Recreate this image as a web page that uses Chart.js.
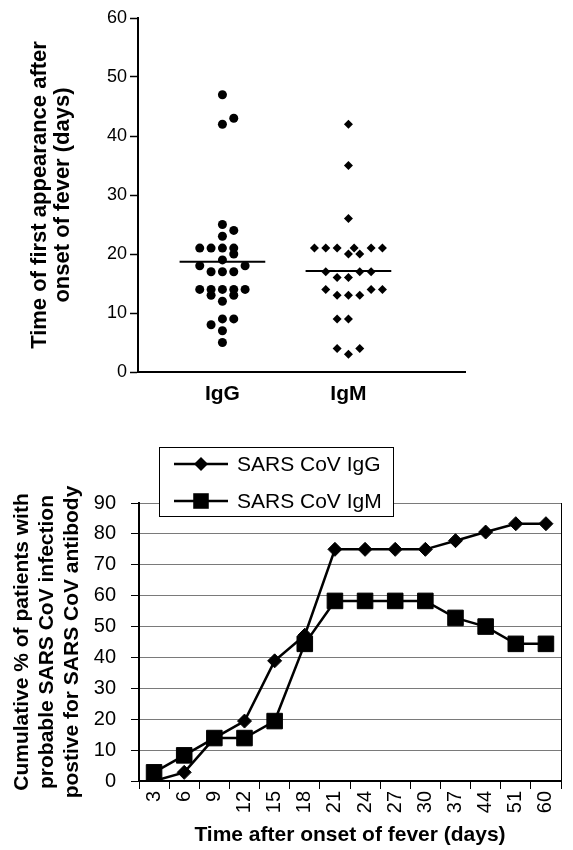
<!DOCTYPE html>
<html>
<head>
<meta charset="utf-8">
<script src="https://cdn.jsdelivr.net/npm/chart.js@4.4.1/dist/chart.umd.min.js"></script>
<style>
  html, body { margin: 0; padding: 0; background: #fff; }
  #top { position: absolute; left: 0; top: 0; }
  #bottom { position: absolute; left: 0; top: 430px; }
</style>
</head>
<body>
<canvas id="top" width="573" height="425"></canvas>
<canvas id="bottom" width="573" height="420"></canvas>
<script>
// top panel: day of first appearance, one dot per patient
const groups = ["IgG", "IgM"];
const iggDays = [47, 42, 43, 25, 24, 23, 21, 21, 21, 21, 20, 19, 18, 18, 17, 17, 17, 14, 14, 14, 14, 14, 13, 13, 12, 9, 9, 8, 7, 5];
const iggSlot = [0, 0, 1, 0, 1, 0, -2, -1, 0, 1, 1, 0, -2, 2, -1, 0, 1, -2, -1, 0, 1, 2, -1, 1, 0, 0, 1, -1, 0, 0];
const igmDays = [42, 35, 26, 21, 21, 21, 21, 21, 21, 20, 20, 17, 17, 17, 16, 16, 14, 14, 14, 13, 13, 13, 9, 9, 4, 4, 3];
const igmSlot = [0, 0, 0, -3, -2, -1, 0.5, 2, 3, 0, 1, -2, 1, 2, -1, 0, -2, 2, 3, -1, 0, 1, -1, 0, -1, 1, 0];
const groupMeans = [18.7, 17.1];

// bottom panel: cumulative % positive by day after fever onset
const days = ["3", "6", "9", "12", "15", "18", "21", "24", "27", "30", "37", "44", "51", "60"];
const iggPct = [0, 2.8, 13.9, 19.4, 38.9, 47.2, 75, 75, 75, 75, 77.8, 80.6, 83.3, 83.3];
const igmPct = [2.8, 8.3, 13.9, 13.9, 19.4, 44.4, 58.3, 58.3, 58.3, 58.3, 52.8, 50, 44.4, 44.4];

Chart.defaults.font.family = "'Liberation Sans', Arial, sans-serif";
Chart.defaults.color = "#000";

const slotStep = 0.09;
const dots = (vals, slots, g) => vals.map((v, i) => ({ x: g + 1 + slots[i] * slotStep, y: v }));
const meanBar = (g) => [{ x: g + 1 - 0.34, y: groupMeans[g] }, { x: g + 1 + 0.34, y: groupMeans[g] }];

new Chart(document.getElementById("top"), {
    type: "scatter",
    data: {
        datasets: [
            { data: dots(iggDays, iggSlot, 0), pointStyle: "circle", pointRadius: 4.5, backgroundColor: "#000", borderColor: "#000", borderWidth: 0 },
            { data: dots(igmDays, igmSlot, 1), pointStyle: "rectRot", pointRadius: 4.5, backgroundColor: "#000", borderColor: "#000", borderWidth: 0 },
            { data: meanBar(0), showLine: true, pointRadius: 0, borderColor: "#000", borderWidth: 2 },
            { data: meanBar(1), showLine: true, pointRadius: 0, borderColor: "#000", borderWidth: 2 },
        ],
    },
    options: {
        responsive: false,
        animation: false,
        layout: { padding: { top: 18, right: 108, left: 0, bottom: 0 } },
        plugins: { legend: { display: false }, tooltip: { enabled: false } },
        scales: {
            x: {
                type: "linear",
                min: 0.33,
                max: 2.925,
                afterBuildTicks: (s) => { s.ticks = groups.map((g, i) => ({ value: i + 1 })); },
                ticks: { callback: (v) => groups[v - 1], font: { size: 21, weight: "bold" }, padding: 10, maxRotation: 0 },
                grid: { display: false, drawTicks: false },
                border: { color: "#000", width: 2 },
                afterFit: (s) => { s.height = 53; },
            },
            y: {
                min: 0,
                max: 60,
                ticks: { stepSize: 10, font: { size: 18 }, padding: 3 },
                grid: { drawOnChartArea: false, color: "#000", tickLength: 8, tickWidth: 1.5 },
                border: { color: "#000", width: 2 },
                title: {
                    display: true,
                    text: ["Time of first appearance after", "onset of fever (days)"],
                    font: { size: 22, weight: "bold", lineHeight: 23 / 22 },
                    padding: { top: 28, bottom: 0 },
                },
                afterFit: (s) => { s.width = 138; },
            },
        },
    },
});

// legend in a box that sits over the top edge of the plot
const boxedLegend = {
    id: "boxedLegend",
    afterDraw(chart) {
        const ctx = chart.ctx;
        const x0 = 159, y0 = 17, w = 234, h = 69;
        ctx.save();
        ctx.fillStyle = "#fff";
        ctx.fillRect(x0, y0, w, h);
        ctx.strokeStyle = "#000";
        ctx.lineWidth = 1;
        ctx.strokeRect(x0 + 0.5, y0 + 0.5, w, h);
        chart.data.datasets.forEach((ds, i) => {
            const y = y0 + 17 + i * 37;
            const cx = x0 + 42;
            ctx.strokeStyle = "#000";
            ctx.lineWidth = 2.5;
            ctx.beginPath();
            ctx.moveTo(x0 + 15, y);
            ctx.lineTo(x0 + 69, y);
            ctx.stroke();
            ctx.fillStyle = "#000";
            ctx.beginPath();
            if (ds.pointStyle === "rect") {
                const s = ds.pointRadius * Math.SQRT1_2;
                ctx.rect(cx - s, y - s, 2 * s, 2 * s);
            } else {
                const r = ds.pointRadius;
                ctx.moveTo(cx, y - r);
                ctx.lineTo(cx + r, y);
                ctx.lineTo(cx, y + r);
                ctx.lineTo(cx - r, y);
                ctx.closePath();
            }
            ctx.fill();
            ctx.font = "21px 'Liberation Sans', Arial, sans-serif";
            ctx.textBaseline = "middle";
            ctx.fillText(ds.label, x0 + 78, y + 1);
        });
        ctx.restore();
    },
};

new Chart(document.getElementById("bottom"), {
    type: "line",
    data: {
        labels: days,
        datasets: [
            { label: "SARS CoV IgG", data: iggPct, borderColor: "#000", backgroundColor: "#000", borderWidth: 2.5, pointStyle: "rectRot", pointRadius: 7, pointBorderWidth: 1, tension: 0 },
            { label: "SARS CoV IgM", data: igmPct, borderColor: "#000", backgroundColor: "#000", borderWidth: 2.5, pointStyle: "rect", pointRadius: 11, pointBorderWidth: 1, tension: 0 },
        ],
    },
    options: {
        responsive: false,
        animation: false,
        layout: { padding: { top: 73, right: 1, left: 0, bottom: 0 } },
        plugins: { legend: { display: false }, tooltip: { enabled: false } },
        scales: {
            x: {
                offset: true,
                ticks: { minRotation: 90, maxRotation: 90, font: { size: 20 }, padding: 2, autoSkip: false },
                grid: { offset: true, drawOnChartArea: false, color: "#000", tickLength: 8 },
                border: { color: "#000", width: 2 },
                title: {
                    display: true,
                    text: "Time after onset of fever (days)",
                    font: { size: 21, weight: "bold" },
                    padding: { top: 0, bottom: 2 },
                },
                afterFit: (s) => { s.height = 69; },
            },
            y: {
                min: 0,
                max: 90,
                ticks: { stepSize: 10, font: { size: 20 }, padding: 15 },
                grid: { color: "#7a7a7a", tickColor: "#000", tickLength: 8 },
                border: { color: "#000", width: 2 },
                title: {
                    display: true,
                    text: ["Cumulative % of patients with", "probable SARS CoV infection", "postive for SARS CoV antibody"],
                    font: { size: 21, weight: "bold", lineHeight: 25 / 21 },
                    padding: { top: 10, bottom: 0 },
                },
                afterFit: (s) => { s.width = 139; },
            },
            y2: {
                position: "right",
                min: 0,
                max: 90,
                ticks: { display: false },
                grid: { display: false, drawTicks: false },
                border: { color: "#000", width: 1 },
                afterFit: (s) => { s.width = 0; },
            },
        },
    },
    plugins: [boxedLegend],
});
</script>
</body>
</html>
